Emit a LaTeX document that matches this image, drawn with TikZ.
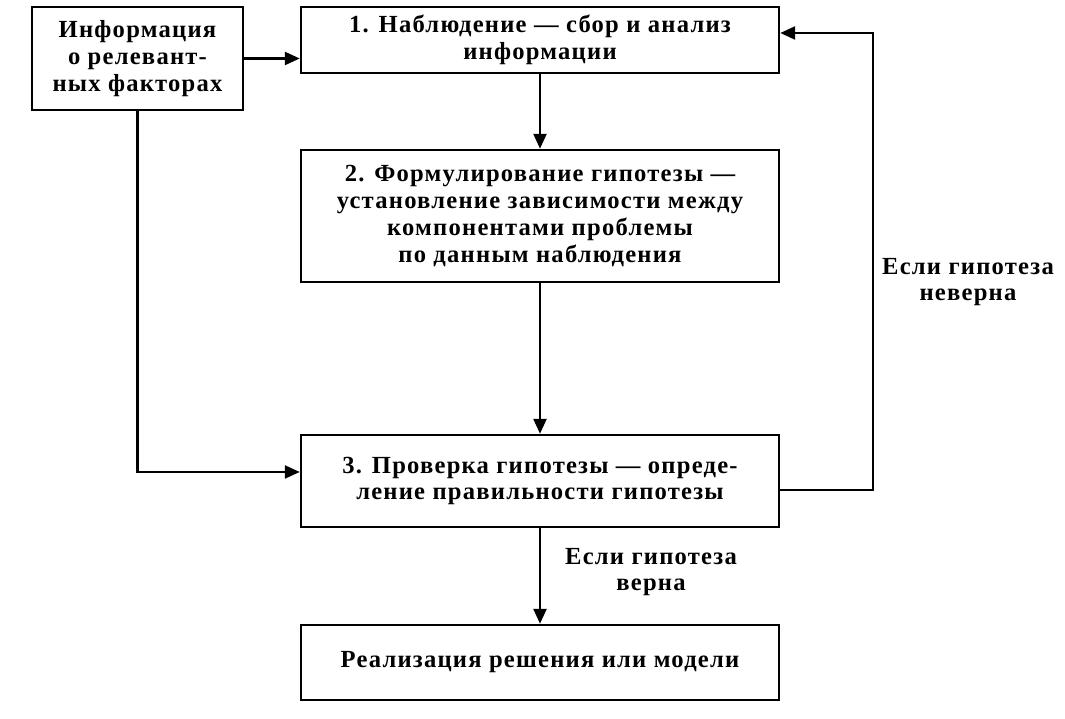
\documentclass[tikz,border=0pt]{standalone}
\usepackage{fontspec}
\setmainfont{Liberation Serif}[LetterSpace=5]
\usetikzlibrary{positioning,arrows.meta}

\begin{document}
\begin{tikzpicture}[
    every node/.style={font=\fontsize{14}{15.2}\selectfont\bfseries},
    blok/.style={draw, line width=1.4pt, align=center, inner sep=2pt},
    strel/.style={line width=1.4pt, -{Triangle[length=3mm,width=2.6mm]}},
    metka/.style={align=center}
  ]
  %----- рамка рисунка -----
  \useasboundingbox (0,0) rectangle (21.3,14.38);

  %----- блоки -----
  \node[blok, minimum width=4.22cm, minimum height=2.06cm] (info) at (2.75,13.21)
    {Информация\\о релевант-\\ных факторах};
  \node[blok, minimum width=9.56cm, minimum height=1.32cm] (nabl) at (10.8,13.58)
    {1. Наблюдение — сбор и анализ\\информации};
  \node[blok, minimum width=9.56cm, minimum height=2.64cm] (gipot) at (10.8,10.06)
    {2. Формулирование гипотезы —\\установление зависимости между\\компонентами проблемы\\по данным наблюдения};
  \node[blok, minimum width=9.56cm, minimum height=1.84cm] (prov) at (10.8,4.76)
    {3. Проверка гипотезы — опреде-\\ление правильности гипотезы};
  \node[blok, minimum width=9.56cm, minimum height=1.5cm] (real) at (10.8,1.13)
    {Реализация решения или модели};

  %----- подписи -----
  \node[metka] (neverna) at (19.36,8.74) {Если гипотеза\\неверна};
  \node[metka] (verna) at (13.02,2.94) {Если гипотеза\\верна};

  %----- связи -----
  \coordinate (ret) at (17.46,13.72);
  \draw[strel] (info.east) -- (info.east -| nabl.west);
  \draw[strel] (nabl.south) -- (gipot.north);
  \draw[strel] (gipot.south) -- (prov.north);
  \draw[strel] (prov.south) -- (real.north);
  \draw[strel] (info.south) |- ([yshift=0.18cm]prov.west);
  \draw[strel] ([yshift=-0.18cm]prov.east) -| (ret) -- (ret -| nabl.east);
\end{tikzpicture}
\end{document}
